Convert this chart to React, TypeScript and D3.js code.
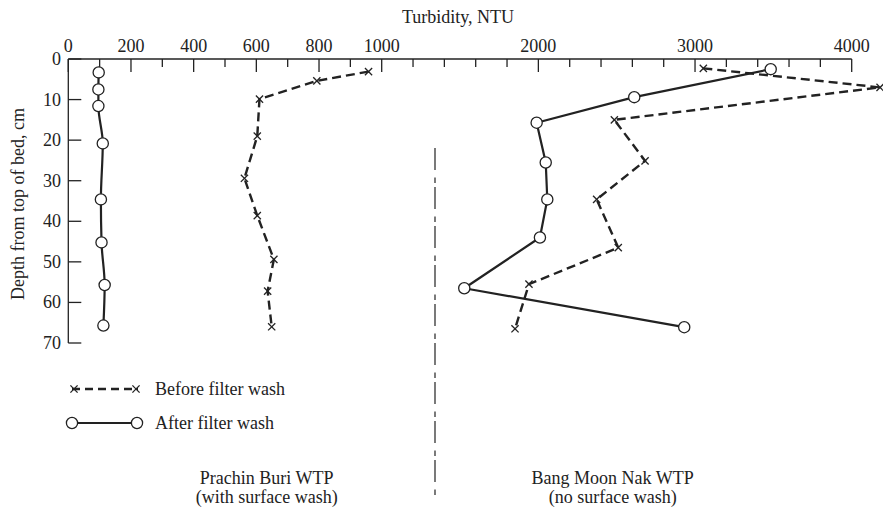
import React from "react";
import * as d3 from "d3";

const leftAfterDepth = [3.3, 7.5, 11.6, 20.8, 34.6, 45.2, 55.7, 65.7];
const leftAfterNTU = [97, 96, 96, 110, 104, 106, 116, 112];
const leftBeforeDepth = [3.1, 5.4, 9.9, 19.0, 29.4, 38.6, 49.4, 57.2, 66.0];
const leftBeforeNTU = [958, 793, 610, 603, 562, 603, 656, 636, 649];
const rightBeforeDepth = [2.3, 7.0, 15.0, 25.1, 34.6, 46.5, 55.5, 66.5];
const rightBeforeNTU = [3053, 4181, 2485, 2681, 2372, 2510, 1940, 1851];
const rightAfterDepth = [2.5, 9.4, 15.7, 25.5, 34.6, 44.0, 56.5, 66.1];
const rightAfterNTU = [3483, 2612, 1989, 2047, 2057, 2010, 1527, 2931];

const majorTicks = [0, 200, 400, 600, 800, 1000, 2000, 3000, 4000];
const minorTicks = [100, 300, 500, 700, 900, 1200, 1400, 1600, 1800, 2200, 2400, 2600, 2800, 3200, 3400, 3600, 3800];
const depthTicks = [0, 10, 20, 30, 40, 50, 60, 70];

const FONT = "'Liberation Serif', 'DejaVu Serif', serif";
const INK = "#222";

export default function App() {
  const x = d3.scaleLinear().domain([0, 1000, 4000]).range([68.3, 381.7, 851.7]);
  const y = d3.scaleLinear().domain([0, 70]).range([59, 343]);

  const zip = (ds: number[], vs: number[]) => ds.map((d, i) => [vs[i], d] as [number, number]);
  const line = d3.line<[number, number]>().x((p) => x(p[0])).y((p) => y(p[1]));
  const curved = d3
    .line<[number, number]>()
    .x((p) => x(p[0]))
    .y((p) => y(p[1]))
    .curve(d3.curveMonotoneY);

  const lb = zip(leftBeforeDepth, leftBeforeNTU);
  const la = zip(leftAfterDepth, leftAfterNTU);
  const rb = zip(rightBeforeDepth, rightBeforeNTU);
  const ra = zip(rightAfterDepth, rightAfterNTU);

  const cross = (cx: number, cy: number, k: string) => (
    <g key={k} stroke={INK} strokeWidth={1.3}>
      <line x1={cx - 3.6} y1={cy - 3.6} x2={cx + 3.6} y2={cy + 3.6} />
      <line x1={cx - 3.6} y1={cy + 3.6} x2={cx + 3.6} y2={cy - 3.6} />
    </g>
  );
  const circ = (cx: number, cy: number, k: string) => (
    <circle key={k} cx={cx} cy={cy} r={5.6} fill="#fff" stroke={INK} strokeWidth={1.3} />
  );

  const dash = "9,5";

  return (
    <svg
      width={883}
      height={508}
      style={{ position: "absolute", left: 0, top: 0, background: "#fff" }}
      fontFamily={FONT}
    >
      <rect width={883} height={508} fill="#fff" />
      {/* title */}
      <text x={458} y={23} fontSize={18} textAnchor="middle" fill={INK}>
        Turbidity, NTU
      </text>
      {/* top axis */}
      <line x1={x(0)} x2={x(4000)} y1={y(0)} y2={y(0)} stroke={INK} strokeWidth={1.3} />
      {majorTicks.map((t) => (
        <g key={"M" + t}>
          <line x1={x(t)} x2={x(t)} y1={y(0)} y2={y(0) + 13} stroke={INK} strokeWidth={1.3} />
          <text x={x(t)} y={52} fontSize={18} textAnchor="middle" fill={INK}>
            {t}
          </text>
        </g>
      ))}
      {minorTicks.map((t) => (
        <line key={"m" + t} x1={x(t)} x2={x(t)} y1={y(0)} y2={y(0) + 8} stroke={INK} strokeWidth={1.3} />
      ))}
      {/* left axis */}
      <line x1={x(0)} x2={x(0)} y1={y(0)} y2={y(70)} stroke={INK} strokeWidth={1.3} />
      {depthTicks.map((t) => (
        <g key={"d" + t}>
          <line x1={x(0)} x2={x(0) + 13} y1={y(t)} y2={y(t)} stroke={INK} strokeWidth={1.3} />
          <text x={61} y={y(t) + 6} fontSize={18} textAnchor="end" fill={INK}>
            {t}
          </text>
        </g>
      ))}
      <text
        transform={`translate(24, 204) rotate(-90)`}
        fontSize={18}
        textAnchor="middle"
        fill={INK}
      >
        Depth from top of bed, cm
      </text>

      {/* divider */}
      <line x1={435} x2={435} y1={148} y2={497} stroke={INK} strokeWidth={1.2} strokeDasharray="22,7.5,5.5,4" />

      {/* series lines */}
      <path d={line(lb) || ""} fill="none" stroke={INK} strokeWidth={2.4} strokeDasharray={dash} />
      <path d={curved(la) || ""} fill="none" stroke={INK} strokeWidth={2.2} />
      <path d={line(rb) || ""} fill="none" stroke={INK} strokeWidth={2.4} strokeDasharray={dash} />
      <path d={line(ra) || ""} fill="none" stroke={INK} strokeWidth={2.2} />

      {lb.map((p, i) => cross(x(p[0]), y(p[1]), "lb" + i))}
      {rb.map((p, i) => cross(x(p[0]), y(p[1]), "rb" + i))}
      {la.map((p, i) => circ(x(p[0]), y(p[1]), "la" + i))}
      {ra.map((p, i) => circ(x(p[0]), y(p[1]), "ra" + i))}

      {/* legend */}
      <line x1={72} x2={138} y1={389} y2={389} stroke={INK} strokeWidth={2.4} strokeDasharray="8,5" />
      {cross(74, 389, "lg1")}
      {cross(136, 389, "lg2")}
      <text x={155} y={395} fontSize={18} fill={INK}>
        Before filter wash
      </text>
      <line x1={72} x2={137} y1={423} y2={423} stroke={INK} strokeWidth={2.2} />
      {circ(72, 423, "lg3")}
      {circ(137, 423, "lg4")}
      <text x={155} y={429} fontSize={18} fill={INK}>
        After filter wash
      </text>

      {/* panel labels */}
      <text x={266.7} y={484} fontSize={18} textAnchor="middle" fill={INK}>
        Prachin Buri WTP
      </text>
      <text x={266.7} y={503} fontSize={18} textAnchor="middle" fill={INK}>
        (with surface wash)
      </text>
      <text x={612.7} y={484} fontSize={18} textAnchor="middle" fill={INK}>
        Bang Moon Nak WTP
      </text>
      <text x={612.7} y={503} fontSize={18} textAnchor="middle" fill={INK}>
        (no surface wash)
      </text>
    </svg>
  );
}
